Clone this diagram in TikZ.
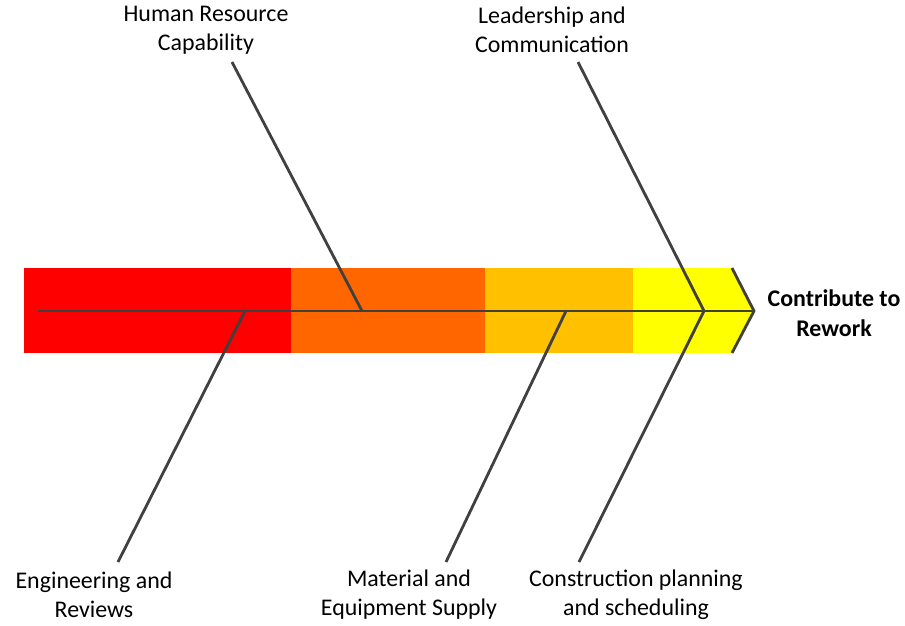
\documentclass[tikz,border=0pt]{standalone}
\usepackage{fontspec}
\setmainfont{Carlito}
\usepackage{xcolor}
\definecolor{bonegray}{HTML}{404040}
\definecolor{bandred}{HTML}{FF0000}
\definecolor{bandorange}{HTML}{FF6600}
\definecolor{bandamber}{HTML}{FFC000}
\definecolor{bandyellow}{HTML}{FFFF00}

\begin{document}
\begin{tikzpicture}[x=0.02cm, y=-0.02cm,
        font=\fontsize{13.6}{16.4}\selectfont,
        bone/.style={draw=bonegray, line width=1.6pt},
        cause/.style={align=center, inner sep=0pt}]
        \useasboundingbox (0,0) rectangle (905,625);

        % coloured band behind the spine
        \fill[bandred]    (24,268)  rectangle (291,353);
        \fill[bandorange] (291,268) rectangle (485,353);
        \fill[bandamber]  (485,268) rectangle (633,353);
        \fill[bandyellow] (633,268) -- (732,268) -- (754,311) -- (732,353) -- (633,353) -- cycle;
        \draw[bone] (732,268) -- (754,311) -- (732,353);

        % spine and effect
        \coordinate (tail) at (38,311);
        \coordinate (head) at (754,311);
        \node[cause, font=\fontsize{13.6}{17}\selectfont\bfseries] (rework) at (834,313) {Contribute to\\Rework};
        \draw[bone] (tail) -- (head);

        % cause labels (top row)
        \node[cause] (hr)   at (206,30) {Human Resource\\Capability};
        \node[cause] (lead) at (552,30) {Leadership and\\Communication};

        % cause labels (bottom row)
        \node[cause] (eng)  at (94,595)  {Engineering and\\Reviews};
        \node[cause] (mat)  at (409,595) {Material and\\Equipment Supply};
        \node[cause] (plan) at (636,595) {Construction planning\\and scheduling};

        % bone ends and joints on the spine
        \coordinate (hr end)   at (232,62);
        \coordinate (hr joint) at (362,311);
        \coordinate (lead end) at (578,62);
        \coordinate (lp joint) at (704,311);
        \coordinate (eng end)  at (118,562);
        \coordinate (eng joint) at (245,311);
        \coordinate (mat end)  at (446,562);
        \coordinate (mat joint) at (566,311);
        \coordinate (plan end) at (579,562);

        % bones
        \draw[bone] (hr end) -- (hr joint);
        \draw[bone] (lead end) -- (lp joint);
        \draw[bone] (eng joint) -- (eng end);
        \draw[bone] (mat joint) -- (mat end);
        \draw[bone] (lp joint) -- (plan end);
    \end{tikzpicture}
\end{document}
